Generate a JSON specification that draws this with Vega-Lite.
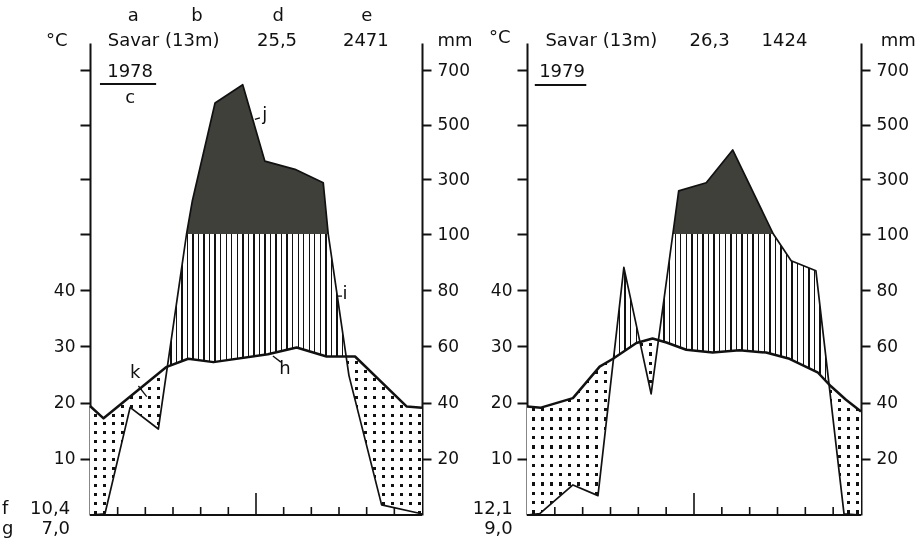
{
"$schema":"https://vega.github.io/schema/vega-lite/v6.json",
"background":"white",
"padding":{"left":2,"top":6,"right":0,"bottom":0},
"config":{
 "font":"DejaVu Sans",
 "view":{"stroke":null,"fill":"white"},
 "axis":{"domainColor":"#111","domainWidth":2,"tickColor":"#111","tickWidth":2,"labelColor":"#111","labelFont":"DejaVu Sans","labelFontSize":17,"grid":false,"title":null,"zindex":1},
 "text":{"font":"DejaVu Sans","fontSize":18,"color":"#111","align":"center","baseline":"middle"}
},
"datasets":{
 "monthBounds":[{"month":1},{"month":2},{"month":3},{"month":4},{"month":5},{"month":7},{"month":8},{"month":9},{"month":10},{"month":11}],
 "temp1978":[{"month":0,"temp":19.4},{"month":0.49,"temp":17.2},{"month":2.75,"temp":26.3},{"month":3.55,"temp":27.8},{"month":4.46,"temp":27.2},{"month":6.43,"temp":28.6},{"month":7.47,"temp":29.8},{"month":8.55,"temp":28.2},{"month":9.58,"temp":28.2},{"month":11.45,"temp":19.3},{"month":12,"temp":19.1}],
 "prec1978":[{"month":0,"prec":0},{"month":0.54,"prec":0.4},{"month":1.45,"prec":38.3},{"month":2.47,"prec":30.6},{"month":3.49,"prec":100},{"month":3.7,"prec":222},{"month":4.52,"prec":580},{"month":5.52,"prec":647},{"month":6.32,"prec":367},{"month":7.41,"prec":337},{"month":8.43,"prec":288},{"month":8.61,"prec":100},{"month":9.36,"prec":49.6},{"month":10.54,"prec":3.6},{"month":11.86,"prec":0.7},{"month":12,"prec":0.3}],
 "temp1979":[{"month":0,"temp":19.3},{"month":0.5,"temp":19.1},{"month":1.65,"temp":20.8},{"month":2.61,"temp":26.4},{"month":3.09,"temp":27.8},{"month":3.93,"temp":30.6},{"month":4.51,"temp":31.4},{"month":5.01,"temp":30.7},{"month":5.72,"temp":29.4},{"month":6.67,"temp":28.9},{"month":7.63,"temp":29.3},{"month":8.59,"temp":28.9},{"month":9.43,"temp":27.8},{"month":10.44,"temp":25.4},{"month":10.92,"temp":22.9},{"month":11.46,"temp":20.5},{"month":12,"temp":18.4}],
 "prec1979":[{"month":0,"prec":0},{"month":0.46,"prec":0.5},{"month":1.65,"prec":10.7},{"month":2.55,"prec":6.9},{"month":3.48,"prec":88.1},{"month":4.46,"prec":43.1},{"month":5.24,"prec":100},{"month":5.45,"prec":258},{"month":6.44,"prec":288},{"month":7.39,"prec":408},{"month":8.85,"prec":100},{"month":9.49,"prec":90.5},{"month":10.38,"prec":86.9},{"month":11.39,"prec":0.4},{"month":12,"prec":0}]
},
"spacing":105,
"bounds":"flush",
"hconcat":[
{
 "width":332,"height":472,
 "resolve":{"scale":{"y":"independent"}},
 "layer":[
  {"data":{"name":"prec1978"},"mark":{"type":"area","color":"#000"},"encoding":{"x":{"field":"month","type":"quantitative","scale":{"domain":[0,12],"nice":false,"zero":false},"axis":null},"y":{"field":"prec","type":"quantitative","scale":{"domain":[0,100,800],"range":[472,191,0],"nice":false,"zero":false},"axis":null}}},
  {"data":{"name":"temp1978"},"mark":{"type":"area","color":"#fff","blend":"difference"},"encoding":{"x":{"field":"month","type":"quantitative","scale":{"domain":[0,12],"nice":false,"zero":false}},"y":{"field":"temp","type":"quantitative","scale":{"domain":[0,50,400],"range":[472,191,0],"nice":false,"zero":false},"axis":null}}},
  {"data":{"name":"temp1978"},"mark":{"type":"area","blend":"lighten","color":{"gradient":"linear","x1":0,"y1":0,"x2":1,"y2":0,"stops":[{"offset":0,"color":"#fff"},
{"offset":0.0135,"color":"#fff"},{"offset":0.0135,"color":"#111"},{"offset":0.0225,"color":"#111"},{"offset":0.0225,"color":"#fff"},
{"offset":0.0405,"color":"#fff"},{"offset":0.0405,"color":"#111"},{"offset":0.0495,"color":"#111"},{"offset":0.0495,"color":"#fff"},
{"offset":0.0676,"color":"#fff"},{"offset":0.0676,"color":"#111"},{"offset":0.0766,"color":"#111"},{"offset":0.0766,"color":"#fff"},
{"offset":0.0946,"color":"#fff"},{"offset":0.0946,"color":"#111"},{"offset":0.1036,"color":"#111"},{"offset":0.1036,"color":"#fff"},
{"offset":0.1216,"color":"#fff"},{"offset":0.1216,"color":"#111"},{"offset":0.1306,"color":"#111"},{"offset":0.1306,"color":"#fff"},
{"offset":0.1486,"color":"#fff"},{"offset":0.1486,"color":"#111"},{"offset":0.1576,"color":"#111"},{"offset":0.1576,"color":"#fff"},
{"offset":0.1757,"color":"#fff"},{"offset":0.1757,"color":"#111"},{"offset":0.1847,"color":"#111"},{"offset":0.1847,"color":"#fff"},
{"offset":0.2027,"color":"#fff"},{"offset":0.2027,"color":"#111"},{"offset":0.2117,"color":"#111"},{"offset":0.2117,"color":"#fff"},
{"offset":0.2297,"color":"#fff"},{"offset":0.2297,"color":"#111"},{"offset":0.2387,"color":"#111"},{"offset":0.2387,"color":"#fff"},
{"offset":0.2568,"color":"#fff"},{"offset":0.2568,"color":"#111"},{"offset":0.2658,"color":"#111"},{"offset":0.2658,"color":"#fff"},
{"offset":0.2838,"color":"#fff"},{"offset":0.2838,"color":"#111"},{"offset":0.2928,"color":"#111"},{"offset":0.2928,"color":"#fff"},
{"offset":0.3108,"color":"#fff"},{"offset":0.3108,"color":"#111"},{"offset":0.3198,"color":"#111"},{"offset":0.3198,"color":"#fff"},
{"offset":0.3378,"color":"#fff"},{"offset":0.3378,"color":"#111"},{"offset":0.3468,"color":"#111"},{"offset":0.3468,"color":"#fff"},
{"offset":0.3649,"color":"#fff"},{"offset":0.3649,"color":"#111"},{"offset":0.3739,"color":"#111"},{"offset":0.3739,"color":"#fff"},
{"offset":0.3919,"color":"#fff"},{"offset":0.3919,"color":"#111"},{"offset":0.4009,"color":"#111"},{"offset":0.4009,"color":"#fff"},
{"offset":0.4189,"color":"#fff"},{"offset":0.4189,"color":"#111"},{"offset":0.4279,"color":"#111"},{"offset":0.4279,"color":"#fff"},
{"offset":0.4459,"color":"#fff"},{"offset":0.4459,"color":"#111"},{"offset":0.4549,"color":"#111"},{"offset":0.4549,"color":"#fff"},
{"offset":0.473,"color":"#fff"},{"offset":0.473,"color":"#111"},{"offset":0.482,"color":"#111"},{"offset":0.482,"color":"#fff"},
{"offset":0.5,"color":"#fff"},{"offset":0.5,"color":"#111"},{"offset":0.509,"color":"#111"},{"offset":0.509,"color":"#fff"},
{"offset":0.527,"color":"#fff"},{"offset":0.527,"color":"#111"},{"offset":0.536,"color":"#111"},{"offset":0.536,"color":"#fff"},
{"offset":0.5541,"color":"#fff"},{"offset":0.5541,"color":"#111"},{"offset":0.5631,"color":"#111"},{"offset":0.5631,"color":"#fff"},
{"offset":0.5811,"color":"#fff"},{"offset":0.5811,"color":"#111"},{"offset":0.5901,"color":"#111"},{"offset":0.5901,"color":"#fff"},
{"offset":0.6081,"color":"#fff"},{"offset":0.6081,"color":"#111"},{"offset":0.6171,"color":"#111"},{"offset":0.6171,"color":"#fff"},
{"offset":0.6351,"color":"#fff"},{"offset":0.6351,"color":"#111"},{"offset":0.6441,"color":"#111"},{"offset":0.6441,"color":"#fff"},
{"offset":0.6622,"color":"#fff"},{"offset":0.6622,"color":"#111"},{"offset":0.6712,"color":"#111"},{"offset":0.6712,"color":"#fff"},
{"offset":0.6892,"color":"#fff"},{"offset":0.6892,"color":"#111"},{"offset":0.6982,"color":"#111"},{"offset":0.6982,"color":"#fff"},
{"offset":0.7162,"color":"#fff"},{"offset":0.7162,"color":"#111"},{"offset":0.7252,"color":"#111"},{"offset":0.7252,"color":"#fff"},
{"offset":0.7432,"color":"#fff"},{"offset":0.7432,"color":"#111"},{"offset":0.7522,"color":"#111"},{"offset":0.7522,"color":"#fff"},
{"offset":0.7703,"color":"#fff"},{"offset":0.7703,"color":"#111"},{"offset":0.7793,"color":"#111"},{"offset":0.7793,"color":"#fff"},
{"offset":0.7973,"color":"#fff"},{"offset":0.7973,"color":"#111"},{"offset":0.8063,"color":"#111"},{"offset":0.8063,"color":"#fff"},
{"offset":0.8243,"color":"#fff"},{"offset":0.8243,"color":"#111"},{"offset":0.8333,"color":"#111"},{"offset":0.8333,"color":"#fff"},
{"offset":0.8514,"color":"#fff"},{"offset":0.8514,"color":"#111"},{"offset":0.8604,"color":"#111"},{"offset":0.8604,"color":"#fff"},
{"offset":0.8784,"color":"#fff"},{"offset":0.8784,"color":"#111"},{"offset":0.8874,"color":"#111"},{"offset":0.8874,"color":"#fff"},
{"offset":0.9054,"color":"#fff"},{"offset":0.9054,"color":"#111"},{"offset":0.9144,"color":"#111"},{"offset":0.9144,"color":"#fff"},
{"offset":0.9324,"color":"#fff"},{"offset":0.9324,"color":"#111"},{"offset":0.9414,"color":"#111"},{"offset":0.9414,"color":"#fff"},
{"offset":0.9595,"color":"#fff"},{"offset":0.9595,"color":"#111"},{"offset":0.9685,"color":"#111"},{"offset":0.9685,"color":"#fff"},
{"offset":0.9865,"color":"#fff"},{"offset":0.9865,"color":"#111"},{"offset":0.9955,"color":"#111"},{"offset":0.9955,"color":"#fff"},
{"offset":1,"color":"#fff"}]}},"encoding":{"x":{"field":"month","type":"quantitative","scale":{"domain":[0,12],"nice":false,"zero":false}},"y":{"field":"temp","type":"quantitative","scale":{"domain":[0,50,400],"range":[472,191,0],"nice":false,"zero":false},"axis":null}}},
  {"data":{"name":"temp1978"},"mark":{"type":"area","blend":"lighten","color":{"gradient":"linear","x1":0,"y1":0,"x2":0,"y2":1,"stops":[{"offset":0,"color":"#fff"},
{"offset":0.0263,"color":"#fff"},{"offset":0.0263,"color":"#111"},{"offset":0.0443,"color":"#111"},{"offset":0.0443,"color":"#fff"},
{"offset":0.0789,"color":"#fff"},{"offset":0.0789,"color":"#111"},{"offset":0.0969,"color":"#111"},{"offset":0.0969,"color":"#fff"},
{"offset":0.1316,"color":"#fff"},{"offset":0.1316,"color":"#111"},{"offset":0.1496,"color":"#111"},{"offset":0.1496,"color":"#fff"},
{"offset":0.1842,"color":"#fff"},{"offset":0.1842,"color":"#111"},{"offset":0.2022,"color":"#111"},{"offset":0.2022,"color":"#fff"},
{"offset":0.2368,"color":"#fff"},{"offset":0.2368,"color":"#111"},{"offset":0.2548,"color":"#111"},{"offset":0.2548,"color":"#fff"},
{"offset":0.2895,"color":"#fff"},{"offset":0.2895,"color":"#111"},{"offset":0.3075,"color":"#111"},{"offset":0.3075,"color":"#fff"},
{"offset":0.3421,"color":"#fff"},{"offset":0.3421,"color":"#111"},{"offset":0.3601,"color":"#111"},{"offset":0.3601,"color":"#fff"},
{"offset":0.3947,"color":"#fff"},{"offset":0.3947,"color":"#111"},{"offset":0.4127,"color":"#111"},{"offset":0.4127,"color":"#fff"},
{"offset":0.4474,"color":"#fff"},{"offset":0.4474,"color":"#111"},{"offset":0.4654,"color":"#111"},{"offset":0.4654,"color":"#fff"},
{"offset":0.5,"color":"#fff"},{"offset":0.5,"color":"#111"},{"offset":0.518,"color":"#111"},{"offset":0.518,"color":"#fff"},
{"offset":0.5526,"color":"#fff"},{"offset":0.5526,"color":"#111"},{"offset":0.5706,"color":"#111"},{"offset":0.5706,"color":"#fff"},
{"offset":0.6053,"color":"#fff"},{"offset":0.6053,"color":"#111"},{"offset":0.6233,"color":"#111"},{"offset":0.6233,"color":"#fff"},
{"offset":0.6579,"color":"#fff"},{"offset":0.6579,"color":"#111"},{"offset":0.6759,"color":"#111"},{"offset":0.6759,"color":"#fff"},
{"offset":0.7105,"color":"#fff"},{"offset":0.7105,"color":"#111"},{"offset":0.7285,"color":"#111"},{"offset":0.7285,"color":"#fff"},
{"offset":0.7632,"color":"#fff"},{"offset":0.7632,"color":"#111"},{"offset":0.7812,"color":"#111"},{"offset":0.7812,"color":"#fff"},
{"offset":0.8158,"color":"#fff"},{"offset":0.8158,"color":"#111"},{"offset":0.8338,"color":"#111"},{"offset":0.8338,"color":"#fff"},
{"offset":0.8684,"color":"#fff"},{"offset":0.8684,"color":"#111"},{"offset":0.8864,"color":"#111"},{"offset":0.8864,"color":"#fff"},
{"offset":0.9211,"color":"#fff"},{"offset":0.9211,"color":"#111"},{"offset":0.9391,"color":"#111"},{"offset":0.9391,"color":"#fff"},
{"offset":0.9737,"color":"#fff"},{"offset":0.9737,"color":"#111"},{"offset":0.9917,"color":"#111"},{"offset":0.9917,"color":"#fff"},
{"offset":1,"color":"#fff"}]}},"encoding":{"x":{"field":"month","type":"quantitative","scale":{"domain":[0,12],"nice":false,"zero":false}},"y":{"field":"temp","type":"quantitative","scale":{"domain":[0,50,400],"range":[472,191,0],"nice":false,"zero":false},"axis":null}}},
  {"data":{"name":"prec1978"},"mark":{"type":"area","blend":"lighten","color":{"gradient":"linear","x1":0,"y1":0,"x2":1,"y2":0,"stops":[{"offset":0,"color":"#fff"},
{"offset":0.0083,"color":"#fff"},{"offset":0.0083,"color":"#111"},{"offset":0.0125,"color":"#111"},{"offset":0.0125,"color":"#fff"},
{"offset":0.025,"color":"#fff"},{"offset":0.025,"color":"#111"},{"offset":0.0292,"color":"#111"},{"offset":0.0292,"color":"#fff"},
{"offset":0.0417,"color":"#fff"},{"offset":0.0417,"color":"#111"},{"offset":0.0459,"color":"#111"},{"offset":0.0459,"color":"#fff"},
{"offset":0.0583,"color":"#fff"},{"offset":0.0583,"color":"#111"},{"offset":0.0625,"color":"#111"},{"offset":0.0625,"color":"#fff"},
{"offset":0.075,"color":"#fff"},{"offset":0.075,"color":"#111"},{"offset":0.0792,"color":"#111"},{"offset":0.0792,"color":"#fff"},
{"offset":0.0917,"color":"#fff"},{"offset":0.0917,"color":"#111"},{"offset":0.0959,"color":"#111"},{"offset":0.0959,"color":"#fff"},
{"offset":0.1083,"color":"#fff"},{"offset":0.1083,"color":"#111"},{"offset":0.1125,"color":"#111"},{"offset":0.1125,"color":"#fff"},
{"offset":0.125,"color":"#fff"},{"offset":0.125,"color":"#111"},{"offset":0.1292,"color":"#111"},{"offset":0.1292,"color":"#fff"},
{"offset":0.1417,"color":"#fff"},{"offset":0.1417,"color":"#111"},{"offset":0.1459,"color":"#111"},{"offset":0.1459,"color":"#fff"},
{"offset":0.1583,"color":"#fff"},{"offset":0.1583,"color":"#111"},{"offset":0.1625,"color":"#111"},{"offset":0.1625,"color":"#fff"},
{"offset":0.175,"color":"#fff"},{"offset":0.175,"color":"#111"},{"offset":0.1792,"color":"#111"},{"offset":0.1792,"color":"#fff"},
{"offset":0.1917,"color":"#fff"},{"offset":0.1917,"color":"#111"},{"offset":0.1959,"color":"#111"},{"offset":0.1959,"color":"#fff"},
{"offset":0.2083,"color":"#fff"},{"offset":0.2083,"color":"#111"},{"offset":0.2125,"color":"#111"},{"offset":0.2125,"color":"#fff"},
{"offset":0.225,"color":"#fff"},{"offset":0.225,"color":"#111"},{"offset":0.2292,"color":"#111"},{"offset":0.2292,"color":"#fff"},
{"offset":0.2417,"color":"#fff"},{"offset":0.2417,"color":"#111"},{"offset":0.2459,"color":"#111"},{"offset":0.2459,"color":"#fff"},
{"offset":0.2583,"color":"#fff"},{"offset":0.2583,"color":"#111"},{"offset":0.2625,"color":"#111"},{"offset":0.2625,"color":"#fff"},
{"offset":0.275,"color":"#fff"},{"offset":0.275,"color":"#111"},{"offset":0.2792,"color":"#111"},{"offset":0.2792,"color":"#fff"},
{"offset":0.2917,"color":"#fff"},{"offset":0.2917,"color":"#111"},{"offset":0.2959,"color":"#111"},{"offset":0.2959,"color":"#fff"},
{"offset":0.3083,"color":"#fff"},{"offset":0.3083,"color":"#111"},{"offset":0.3125,"color":"#111"},{"offset":0.3125,"color":"#fff"},
{"offset":0.325,"color":"#fff"},{"offset":0.325,"color":"#111"},{"offset":0.3292,"color":"#111"},{"offset":0.3292,"color":"#fff"},
{"offset":0.3417,"color":"#fff"},{"offset":0.3417,"color":"#111"},{"offset":0.3459,"color":"#111"},{"offset":0.3459,"color":"#fff"},
{"offset":0.3583,"color":"#fff"},{"offset":0.3583,"color":"#111"},{"offset":0.3625,"color":"#111"},{"offset":0.3625,"color":"#fff"},
{"offset":0.375,"color":"#fff"},{"offset":0.375,"color":"#111"},{"offset":0.3792,"color":"#111"},{"offset":0.3792,"color":"#fff"},
{"offset":0.3917,"color":"#fff"},{"offset":0.3917,"color":"#111"},{"offset":0.3959,"color":"#111"},{"offset":0.3959,"color":"#fff"},
{"offset":0.4083,"color":"#fff"},{"offset":0.4083,"color":"#111"},{"offset":0.4125,"color":"#111"},{"offset":0.4125,"color":"#fff"},
{"offset":0.425,"color":"#fff"},{"offset":0.425,"color":"#111"},{"offset":0.4292,"color":"#111"},{"offset":0.4292,"color":"#fff"},
{"offset":0.4417,"color":"#fff"},{"offset":0.4417,"color":"#111"},{"offset":0.4459,"color":"#111"},{"offset":0.4459,"color":"#fff"},
{"offset":0.4583,"color":"#fff"},{"offset":0.4583,"color":"#111"},{"offset":0.4625,"color":"#111"},{"offset":0.4625,"color":"#fff"},
{"offset":0.475,"color":"#fff"},{"offset":0.475,"color":"#111"},{"offset":0.4792,"color":"#111"},{"offset":0.4792,"color":"#fff"},
{"offset":0.4917,"color":"#fff"},{"offset":0.4917,"color":"#111"},{"offset":0.4959,"color":"#111"},{"offset":0.4959,"color":"#fff"},
{"offset":0.5083,"color":"#fff"},{"offset":0.5083,"color":"#111"},{"offset":0.5125,"color":"#111"},{"offset":0.5125,"color":"#fff"},
{"offset":0.525,"color":"#fff"},{"offset":0.525,"color":"#111"},{"offset":0.5292,"color":"#111"},{"offset":0.5292,"color":"#fff"},
{"offset":0.5417,"color":"#fff"},{"offset":0.5417,"color":"#111"},{"offset":0.5459,"color":"#111"},{"offset":0.5459,"color":"#fff"},
{"offset":0.5583,"color":"#fff"},{"offset":0.5583,"color":"#111"},{"offset":0.5625,"color":"#111"},{"offset":0.5625,"color":"#fff"},
{"offset":0.575,"color":"#fff"},{"offset":0.575,"color":"#111"},{"offset":0.5792,"color":"#111"},{"offset":0.5792,"color":"#fff"},
{"offset":0.5917,"color":"#fff"},{"offset":0.5917,"color":"#111"},{"offset":0.5959,"color":"#111"},{"offset":0.5959,"color":"#fff"},
{"offset":0.6083,"color":"#fff"},{"offset":0.6083,"color":"#111"},{"offset":0.6125,"color":"#111"},{"offset":0.6125,"color":"#fff"},
{"offset":0.625,"color":"#fff"},{"offset":0.625,"color":"#111"},{"offset":0.6292,"color":"#111"},{"offset":0.6292,"color":"#fff"},
{"offset":0.6417,"color":"#fff"},{"offset":0.6417,"color":"#111"},{"offset":0.6459,"color":"#111"},{"offset":0.6459,"color":"#fff"},
{"offset":0.6583,"color":"#fff"},{"offset":0.6583,"color":"#111"},{"offset":0.6625,"color":"#111"},{"offset":0.6625,"color":"#fff"},
{"offset":0.675,"color":"#fff"},{"offset":0.675,"color":"#111"},{"offset":0.6792,"color":"#111"},{"offset":0.6792,"color":"#fff"},
{"offset":0.6917,"color":"#fff"},{"offset":0.6917,"color":"#111"},{"offset":0.6959,"color":"#111"},{"offset":0.6959,"color":"#fff"},
{"offset":0.7083,"color":"#fff"},{"offset":0.7083,"color":"#111"},{"offset":0.7125,"color":"#111"},{"offset":0.7125,"color":"#fff"},
{"offset":0.725,"color":"#fff"},{"offset":0.725,"color":"#111"},{"offset":0.7292,"color":"#111"},{"offset":0.7292,"color":"#fff"},
{"offset":0.7417,"color":"#fff"},{"offset":0.7417,"color":"#111"},{"offset":0.7459,"color":"#111"},{"offset":0.7459,"color":"#fff"},
{"offset":0.7583,"color":"#fff"},{"offset":0.7583,"color":"#111"},{"offset":0.7625,"color":"#111"},{"offset":0.7625,"color":"#fff"},
{"offset":0.775,"color":"#fff"},{"offset":0.775,"color":"#111"},{"offset":0.7792,"color":"#111"},{"offset":0.7792,"color":"#fff"},
{"offset":0.7917,"color":"#fff"},{"offset":0.7917,"color":"#111"},{"offset":0.7959,"color":"#111"},{"offset":0.7959,"color":"#fff"},
{"offset":0.8083,"color":"#fff"},{"offset":0.8083,"color":"#111"},{"offset":0.8125,"color":"#111"},{"offset":0.8125,"color":"#fff"},
{"offset":0.825,"color":"#fff"},{"offset":0.825,"color":"#111"},{"offset":0.8292,"color":"#111"},{"offset":0.8292,"color":"#fff"},
{"offset":0.8417,"color":"#fff"},{"offset":0.8417,"color":"#111"},{"offset":0.8459,"color":"#111"},{"offset":0.8459,"color":"#fff"},
{"offset":0.8583,"color":"#fff"},{"offset":0.8583,"color":"#111"},{"offset":0.8625,"color":"#111"},{"offset":0.8625,"color":"#fff"},
{"offset":0.875,"color":"#fff"},{"offset":0.875,"color":"#111"},{"offset":0.8792,"color":"#111"},{"offset":0.8792,"color":"#fff"},
{"offset":0.8917,"color":"#fff"},{"offset":0.8917,"color":"#111"},{"offset":0.8959,"color":"#111"},{"offset":0.8959,"color":"#fff"},
{"offset":0.9083,"color":"#fff"},{"offset":0.9083,"color":"#111"},{"offset":0.9125,"color":"#111"},{"offset":0.9125,"color":"#fff"},
{"offset":0.925,"color":"#fff"},{"offset":0.925,"color":"#111"},{"offset":0.9292,"color":"#111"},{"offset":0.9292,"color":"#fff"},
{"offset":0.9417,"color":"#fff"},{"offset":0.9417,"color":"#111"},{"offset":0.9459,"color":"#111"},{"offset":0.9459,"color":"#fff"},
{"offset":0.9583,"color":"#fff"},{"offset":0.9583,"color":"#111"},{"offset":0.9625,"color":"#111"},{"offset":0.9625,"color":"#fff"},
{"offset":0.975,"color":"#fff"},{"offset":0.975,"color":"#111"},{"offset":0.9792,"color":"#111"},{"offset":0.9792,"color":"#fff"},
{"offset":0.9917,"color":"#fff"},{"offset":0.9917,"color":"#111"},{"offset":0.9959,"color":"#111"},{"offset":0.9959,"color":"#fff"},
{"offset":1,"color":"#fff"}]}},"encoding":{"x":{"field":"month","type":"quantitative","scale":{"domain":[0,12],"nice":false,"zero":false}},"y":{"field":"prec","type":"quantitative","scale":{"domain":[0,100,800],"range":[472,191,0],"nice":false,"zero":false},"axis":null}}},
  {"data":{"name":"prec1978"},"transform":[{"filter":"datum.prec >= 100"}],"mark":{"type":"area","color":"#3f403a"},"encoding":{"x":{"field":"month","type":"quantitative","scale":{"domain":[0,12],"nice":false,"zero":false}},"y":{"field":"prec","type":"quantitative","scale":{"domain":[0,100,800],"range":[472,191,0],"nice":false,"zero":false},"axis":null},"y2":{"datum":100}}},
  {"data":{"name":"temp1978"},"mark":{"type":"line","color":"#111","strokeWidth":2.5,"strokeJoin":"round"},"encoding":{"x":{"field":"month","type":"quantitative","scale":{"domain":[0,12],"nice":false,"zero":false}},"y":{"field":"temp","type":"quantitative","scale":{"domain":[0,50,400],"range":[472,191,0],"nice":false,"zero":false},"axis":{"orient":"left","values":[10,20,30,40,50,150,250,350],"labelExpr":"datum.value <= 40 ? datum.label : ''","tickSize":10,"labelPadding":5}}}},
  {"data":{"name":"prec1978"},"mark":{"type":"line","color":"#111","strokeWidth":1.7,"strokeJoin":"round"},"encoding":{"x":{"field":"month","type":"quantitative","scale":{"domain":[0,12],"nice":false,"zero":false}},"y":{"field":"prec","type":"quantitative","scale":{"domain":[0,100,800],"range":[472,191,0],"nice":false,"zero":false},"axis":{"orient":"right","values":[20,40,60,80,100,300,500,700],"tickSize":9,"labelPadding":6}}}},
  {"data":{"values":[{}]},"mark":{"type":"rule","color":"#111","strokeWidth":2},"encoding":{"x":{"datum":0,"type":"quantitative","scale":{"domain":[0,12],"nice":false,"zero":false}},"x2":{"datum":12},"y":{"datum":0,"type":"quantitative","scale":{"domain":[0,100,800],"range":[472,191,0],"nice":false,"zero":false},"axis":null}}},
  {"data":{"name":"monthBounds"},"mark":{"type":"rule","color":"#111","strokeWidth":1.6},"encoding":{"x":{"field":"month","type":"quantitative","scale":{"domain":[0,12],"nice":false,"zero":false}},"y":{"datum":0,"type":"quantitative","scale":{"domain":[0,100,800],"range":[472,191,0],"nice":false,"zero":false},"axis":null},"y2":{"datum":2.85}}},
  {"data":{"values":[{}]},"mark":{"type":"rule","color":"#111","strokeWidth":1.6},"encoding":{"x":{"datum":6,"type":"quantitative","scale":{"domain":[0,12],"nice":false,"zero":false}},"y":{"datum":0,"type":"quantitative","scale":{"domain":[0,100,800],"range":[472,191,0],"nice":false,"zero":false},"axis":null},"y2":{"datum":7.8}}},
  {"data":{"values":[{}]},"mark":{"type":"text","text":"a"},"encoding":{"x":{"datum":1.56,"type":"quantitative","scale":{"domain":[0,12],"nice":false,"zero":false}},"y":{"datum":899,"type":"quantitative","scale":{"domain":[0,100,800],"range":[472,191,0],"nice":false,"zero":false},"axis":null}}},
  {"data":{"values":[{}]},"mark":{"type":"text","text":"b"},"encoding":{"x":{"datum":3.87,"type":"quantitative","scale":{"domain":[0,12],"nice":false,"zero":false}},"y":{"datum":899,"type":"quantitative","scale":{"domain":[0,100,800],"range":[472,191,0],"nice":false,"zero":false},"axis":null}}},
  {"data":{"values":[{}]},"mark":{"type":"text","text":"d"},"encoding":{"x":{"datum":6.8,"type":"quantitative","scale":{"domain":[0,12],"nice":false,"zero":false}},"y":{"datum":899,"type":"quantitative","scale":{"domain":[0,100,800],"range":[472,191,0],"nice":false,"zero":false},"axis":null}}},
  {"data":{"values":[{}]},"mark":{"type":"text","text":"e"},"encoding":{"x":{"datum":10.0,"type":"quantitative","scale":{"domain":[0,12],"nice":false,"zero":false}},"y":{"datum":899,"type":"quantitative","scale":{"domain":[0,100,800],"range":[472,191,0],"nice":false,"zero":false},"axis":null}}},
  {"data":{"values":[{}]},"mark":{"type":"text","text":"°C"},"encoding":{"x":{"datum":-1.2,"type":"quantitative","scale":{"domain":[0,12],"nice":false,"zero":false}},"y":{"datum":807,"type":"quantitative","scale":{"domain":[0,100,800],"range":[472,191,0],"nice":false,"zero":false},"axis":null}}},
  {"data":{"values":[{}]},"mark":{"type":"text","text":"Savar (13m)"},"encoding":{"x":{"datum":2.66,"type":"quantitative","scale":{"domain":[0,12],"nice":false,"zero":false}},"y":{"datum":807,"type":"quantitative","scale":{"domain":[0,100,800],"range":[472,191,0],"nice":false,"zero":false},"axis":null}}},
  {"data":{"values":[{}]},"mark":{"type":"text","text":"25,5"},"encoding":{"x":{"datum":6.76,"type":"quantitative","scale":{"domain":[0,12],"nice":false,"zero":false}},"y":{"datum":807,"type":"quantitative","scale":{"domain":[0,100,800],"range":[472,191,0],"nice":false,"zero":false},"axis":null}}},
  {"data":{"values":[{}]},"mark":{"type":"text","text":"2471"},"encoding":{"x":{"datum":9.97,"type":"quantitative","scale":{"domain":[0,12],"nice":false,"zero":false}},"y":{"datum":807,"type":"quantitative","scale":{"domain":[0,100,800],"range":[472,191,0],"nice":false,"zero":false},"axis":null}}},
  {"data":{"values":[{}]},"mark":{"type":"text","text":"mm"},"encoding":{"x":{"datum":13.19,"type":"quantitative","scale":{"domain":[0,12],"nice":false,"zero":false}},"y":{"datum":807,"type":"quantitative","scale":{"domain":[0,100,800],"range":[472,191,0],"nice":false,"zero":false},"axis":null}}},
  {"data":{"values":[{}]},"mark":{"type":"text","text":"1978"},"encoding":{"x":{"datum":1.45,"type":"quantitative","scale":{"domain":[0,12],"nice":false,"zero":false}},"y":{"datum":694,"type":"quantitative","scale":{"domain":[0,100,800],"range":[472,191,0],"nice":false,"zero":false},"axis":null}}},
  {"data":{"values":[{}]},"mark":{"type":"rule","color":"#111","strokeWidth":2},"encoding":{"x":{"datum":0.36,"type":"quantitative","scale":{"domain":[0,12],"nice":false,"zero":false}},"x2":{"datum":2.39},"y":{"datum":650,"type":"quantitative","scale":{"domain":[0,100,800],"range":[472,191,0],"nice":false,"zero":false},"axis":null}}},
  {"data":{"values":[{}]},"mark":{"type":"text","text":"c"},"encoding":{"x":{"datum":1.45,"type":"quantitative","scale":{"domain":[0,12],"nice":false,"zero":false}},"y":{"datum":598,"type":"quantitative","scale":{"domain":[0,100,800],"range":[472,191,0],"nice":false,"zero":false},"axis":null}}},
  {"data":{"values":[{}]},"mark":{"type":"text","text":"j"},"encoding":{"x":{"datum":6.32,"type":"quantitative","scale":{"domain":[0,12],"nice":false,"zero":false}},"y":{"datum":536,"type":"quantitative","scale":{"domain":[0,100,800],"range":[472,191,0],"nice":false,"zero":false},"axis":null}}},
  {"data":{"values":[{}]},"mark":{"type":"rule","color":"#111","strokeWidth":1.3},"encoding":{"x":{"datum":5.96,"type":"quantitative","scale":{"domain":[0,12],"nice":false,"zero":false}},"x2":{"datum":6.14},"y":{"datum":520,"type":"quantitative","scale":{"domain":[0,100,800],"range":[472,191,0],"nice":false,"zero":false},"axis":null},"y2":{"datum":526}}},
  {"data":{"values":[{}]},"mark":{"type":"text","text":"i"},"encoding":{"x":{"datum":9.22,"type":"quantitative","scale":{"domain":[0,12],"nice":false,"zero":false}},"y":{"datum":78.5,"type":"quantitative","scale":{"domain":[0,100,800],"range":[472,191,0],"nice":false,"zero":false},"axis":null}}},
  {"data":{"values":[{}]},"mark":{"type":"rule","color":"#111","strokeWidth":1.3},"encoding":{"x":{"datum":8.96,"type":"quantitative","scale":{"domain":[0,12],"nice":false,"zero":false}},"x2":{"datum":9.11},"y":{"datum":77.9,"type":"quantitative","scale":{"domain":[0,100,800],"range":[472,191,0],"nice":false,"zero":false},"axis":null}}},
  {"data":{"values":[{}]},"mark":{"type":"text","text":"h"},"encoding":{"x":{"datum":7.05,"type":"quantitative","scale":{"domain":[0,12],"nice":false,"zero":false}},"y":{"datum":52,"type":"quantitative","scale":{"domain":[0,100,800],"range":[472,191,0],"nice":false,"zero":false},"axis":null}}},
  {"data":{"values":[{}]},"mark":{"type":"rule","color":"#111","strokeWidth":1.3},"encoding":{"x":{"datum":6.61,"type":"quantitative","scale":{"domain":[0,12],"nice":false,"zero":false}},"x2":{"datum":6.9},"y":{"datum":56.6,"type":"quantitative","scale":{"domain":[0,100,800],"range":[472,191,0],"nice":false,"zero":false},"axis":null},"y2":{"datum":54.4}}},
  {"data":{"values":[{}]},"mark":{"type":"text","text":"k"},"encoding":{"x":{"datum":1.63,"type":"quantitative","scale":{"domain":[0,12],"nice":false,"zero":false}},"y":{"datum":50.6,"type":"quantitative","scale":{"domain":[0,100,800],"range":[472,191,0],"nice":false,"zero":false},"axis":null}}},
  {"data":{"values":[{}]},"mark":{"type":"rule","color":"#111","strokeWidth":1.3},"encoding":{"x":{"datum":1.75,"type":"quantitative","scale":{"domain":[0,12],"nice":false,"zero":false}},"x2":{"datum":2.05},"y":{"datum":45.9,"type":"quantitative","scale":{"domain":[0,100,800],"range":[472,191,0],"nice":false,"zero":false},"axis":null},"y2":{"datum":42.1}}},
  {"data":{"values":[{}]},"mark":{"type":"text","text":"f","align":"left"},"encoding":{"x":{"datum":-3.18,"type":"quantitative","scale":{"domain":[0,12],"nice":false,"zero":false}},"y":{"datum":2.2,"type":"quantitative","scale":{"domain":[0,100,800],"range":[472,191,0],"nice":false,"zero":false},"axis":null}}},
  {"data":{"values":[{}]},"mark":{"type":"text","text":"10,4","align":"right"},"encoding":{"x":{"datum":-0.72,"type":"quantitative","scale":{"domain":[0,12],"nice":false,"zero":false}},"y":{"datum":2.2,"type":"quantitative","scale":{"domain":[0,100,800],"range":[472,191,0],"nice":false,"zero":false},"axis":null}}},
  {"data":{"values":[{}]},"mark":{"type":"text","text":"g","align":"left"},"encoding":{"x":{"datum":-3.18,"type":"quantitative","scale":{"domain":[0,12],"nice":false,"zero":false}},"y":{"datum":-5,"type":"quantitative","scale":{"domain":[0,100,800],"range":[472,191,0],"nice":false,"zero":false},"axis":null}}},
  {"data":{"values":[{}]},"mark":{"type":"text","text":"7,0","align":"right"},"encoding":{"x":{"datum":-0.72,"type":"quantitative","scale":{"domain":[0,12],"nice":false,"zero":false}},"y":{"datum":-5,"type":"quantitative","scale":{"domain":[0,100,800],"range":[472,191,0],"nice":false,"zero":false},"axis":null}}}
 ]
},
{
 "width":334,"height":472,
 "resolve":{"scale":{"y":"independent"}},
 "layer":[
  {"data":{"name":"prec1979"},"mark":{"type":"area","color":"#000"},"encoding":{"x":{"field":"month","type":"quantitative","scale":{"domain":[0,12],"nice":false,"zero":false},"axis":null},"y":{"field":"prec","type":"quantitative","scale":{"domain":[0,100,800],"range":[472,191,0],"nice":false,"zero":false},"axis":null}}},
  {"data":{"name":"temp1979"},"mark":{"type":"area","color":"#fff","blend":"difference"},"encoding":{"x":{"field":"month","type":"quantitative","scale":{"domain":[0,12],"nice":false,"zero":false}},"y":{"field":"temp","type":"quantitative","scale":{"domain":[0,50,400],"range":[472,191,0],"nice":false,"zero":false},"axis":null}}},
  {"data":{"name":"temp1979"},"mark":{"type":"area","blend":"lighten","color":{"gradient":"linear","x1":0,"y1":0,"x2":1,"y2":0,"stops":[{"offset":0,"color":"#fff"},
{"offset":0.0135,"color":"#fff"},{"offset":0.0135,"color":"#111"},{"offset":0.0225,"color":"#111"},{"offset":0.0225,"color":"#fff"},
{"offset":0.0405,"color":"#fff"},{"offset":0.0405,"color":"#111"},{"offset":0.0495,"color":"#111"},{"offset":0.0495,"color":"#fff"},
{"offset":0.0676,"color":"#fff"},{"offset":0.0676,"color":"#111"},{"offset":0.0766,"color":"#111"},{"offset":0.0766,"color":"#fff"},
{"offset":0.0946,"color":"#fff"},{"offset":0.0946,"color":"#111"},{"offset":0.1036,"color":"#111"},{"offset":0.1036,"color":"#fff"},
{"offset":0.1216,"color":"#fff"},{"offset":0.1216,"color":"#111"},{"offset":0.1306,"color":"#111"},{"offset":0.1306,"color":"#fff"},
{"offset":0.1486,"color":"#fff"},{"offset":0.1486,"color":"#111"},{"offset":0.1576,"color":"#111"},{"offset":0.1576,"color":"#fff"},
{"offset":0.1757,"color":"#fff"},{"offset":0.1757,"color":"#111"},{"offset":0.1847,"color":"#111"},{"offset":0.1847,"color":"#fff"},
{"offset":0.2027,"color":"#fff"},{"offset":0.2027,"color":"#111"},{"offset":0.2117,"color":"#111"},{"offset":0.2117,"color":"#fff"},
{"offset":0.2297,"color":"#fff"},{"offset":0.2297,"color":"#111"},{"offset":0.2387,"color":"#111"},{"offset":0.2387,"color":"#fff"},
{"offset":0.2568,"color":"#fff"},{"offset":0.2568,"color":"#111"},{"offset":0.2658,"color":"#111"},{"offset":0.2658,"color":"#fff"},
{"offset":0.2838,"color":"#fff"},{"offset":0.2838,"color":"#111"},{"offset":0.2928,"color":"#111"},{"offset":0.2928,"color":"#fff"},
{"offset":0.3108,"color":"#fff"},{"offset":0.3108,"color":"#111"},{"offset":0.3198,"color":"#111"},{"offset":0.3198,"color":"#fff"},
{"offset":0.3378,"color":"#fff"},{"offset":0.3378,"color":"#111"},{"offset":0.3468,"color":"#111"},{"offset":0.3468,"color":"#fff"},
{"offset":0.3649,"color":"#fff"},{"offset":0.3649,"color":"#111"},{"offset":0.3739,"color":"#111"},{"offset":0.3739,"color":"#fff"},
{"offset":0.3919,"color":"#fff"},{"offset":0.3919,"color":"#111"},{"offset":0.4009,"color":"#111"},{"offset":0.4009,"color":"#fff"},
{"offset":0.4189,"color":"#fff"},{"offset":0.4189,"color":"#111"},{"offset":0.4279,"color":"#111"},{"offset":0.4279,"color":"#fff"},
{"offset":0.4459,"color":"#fff"},{"offset":0.4459,"color":"#111"},{"offset":0.4549,"color":"#111"},{"offset":0.4549,"color":"#fff"},
{"offset":0.473,"color":"#fff"},{"offset":0.473,"color":"#111"},{"offset":0.482,"color":"#111"},{"offset":0.482,"color":"#fff"},
{"offset":0.5,"color":"#fff"},{"offset":0.5,"color":"#111"},{"offset":0.509,"color":"#111"},{"offset":0.509,"color":"#fff"},
{"offset":0.527,"color":"#fff"},{"offset":0.527,"color":"#111"},{"offset":0.536,"color":"#111"},{"offset":0.536,"color":"#fff"},
{"offset":0.5541,"color":"#fff"},{"offset":0.5541,"color":"#111"},{"offset":0.5631,"color":"#111"},{"offset":0.5631,"color":"#fff"},
{"offset":0.5811,"color":"#fff"},{"offset":0.5811,"color":"#111"},{"offset":0.5901,"color":"#111"},{"offset":0.5901,"color":"#fff"},
{"offset":0.6081,"color":"#fff"},{"offset":0.6081,"color":"#111"},{"offset":0.6171,"color":"#111"},{"offset":0.6171,"color":"#fff"},
{"offset":0.6351,"color":"#fff"},{"offset":0.6351,"color":"#111"},{"offset":0.6441,"color":"#111"},{"offset":0.6441,"color":"#fff"},
{"offset":0.6622,"color":"#fff"},{"offset":0.6622,"color":"#111"},{"offset":0.6712,"color":"#111"},{"offset":0.6712,"color":"#fff"},
{"offset":0.6892,"color":"#fff"},{"offset":0.6892,"color":"#111"},{"offset":0.6982,"color":"#111"},{"offset":0.6982,"color":"#fff"},
{"offset":0.7162,"color":"#fff"},{"offset":0.7162,"color":"#111"},{"offset":0.7252,"color":"#111"},{"offset":0.7252,"color":"#fff"},
{"offset":0.7432,"color":"#fff"},{"offset":0.7432,"color":"#111"},{"offset":0.7522,"color":"#111"},{"offset":0.7522,"color":"#fff"},
{"offset":0.7703,"color":"#fff"},{"offset":0.7703,"color":"#111"},{"offset":0.7793,"color":"#111"},{"offset":0.7793,"color":"#fff"},
{"offset":0.7973,"color":"#fff"},{"offset":0.7973,"color":"#111"},{"offset":0.8063,"color":"#111"},{"offset":0.8063,"color":"#fff"},
{"offset":0.8243,"color":"#fff"},{"offset":0.8243,"color":"#111"},{"offset":0.8333,"color":"#111"},{"offset":0.8333,"color":"#fff"},
{"offset":0.8514,"color":"#fff"},{"offset":0.8514,"color":"#111"},{"offset":0.8604,"color":"#111"},{"offset":0.8604,"color":"#fff"},
{"offset":0.8784,"color":"#fff"},{"offset":0.8784,"color":"#111"},{"offset":0.8874,"color":"#111"},{"offset":0.8874,"color":"#fff"},
{"offset":0.9054,"color":"#fff"},{"offset":0.9054,"color":"#111"},{"offset":0.9144,"color":"#111"},{"offset":0.9144,"color":"#fff"},
{"offset":0.9324,"color":"#fff"},{"offset":0.9324,"color":"#111"},{"offset":0.9414,"color":"#111"},{"offset":0.9414,"color":"#fff"},
{"offset":0.9595,"color":"#fff"},{"offset":0.9595,"color":"#111"},{"offset":0.9685,"color":"#111"},{"offset":0.9685,"color":"#fff"},
{"offset":0.9865,"color":"#fff"},{"offset":0.9865,"color":"#111"},{"offset":0.9955,"color":"#111"},{"offset":0.9955,"color":"#fff"},
{"offset":1,"color":"#fff"}]}},"encoding":{"x":{"field":"month","type":"quantitative","scale":{"domain":[0,12],"nice":false,"zero":false}},"y":{"field":"temp","type":"quantitative","scale":{"domain":[0,50,400],"range":[472,191,0],"nice":false,"zero":false},"axis":null}}},
  {"data":{"name":"temp1979"},"mark":{"type":"area","blend":"lighten","color":{"gradient":"linear","x1":0,"y1":0,"x2":0,"y2":1,"stops":[{"offset":0,"color":"#fff"},
{"offset":0.0263,"color":"#fff"},{"offset":0.0263,"color":"#111"},{"offset":0.0443,"color":"#111"},{"offset":0.0443,"color":"#fff"},
{"offset":0.0789,"color":"#fff"},{"offset":0.0789,"color":"#111"},{"offset":0.0969,"color":"#111"},{"offset":0.0969,"color":"#fff"},
{"offset":0.1316,"color":"#fff"},{"offset":0.1316,"color":"#111"},{"offset":0.1496,"color":"#111"},{"offset":0.1496,"color":"#fff"},
{"offset":0.1842,"color":"#fff"},{"offset":0.1842,"color":"#111"},{"offset":0.2022,"color":"#111"},{"offset":0.2022,"color":"#fff"},
{"offset":0.2368,"color":"#fff"},{"offset":0.2368,"color":"#111"},{"offset":0.2548,"color":"#111"},{"offset":0.2548,"color":"#fff"},
{"offset":0.2895,"color":"#fff"},{"offset":0.2895,"color":"#111"},{"offset":0.3075,"color":"#111"},{"offset":0.3075,"color":"#fff"},
{"offset":0.3421,"color":"#fff"},{"offset":0.3421,"color":"#111"},{"offset":0.3601,"color":"#111"},{"offset":0.3601,"color":"#fff"},
{"offset":0.3947,"color":"#fff"},{"offset":0.3947,"color":"#111"},{"offset":0.4127,"color":"#111"},{"offset":0.4127,"color":"#fff"},
{"offset":0.4474,"color":"#fff"},{"offset":0.4474,"color":"#111"},{"offset":0.4654,"color":"#111"},{"offset":0.4654,"color":"#fff"},
{"offset":0.5,"color":"#fff"},{"offset":0.5,"color":"#111"},{"offset":0.518,"color":"#111"},{"offset":0.518,"color":"#fff"},
{"offset":0.5526,"color":"#fff"},{"offset":0.5526,"color":"#111"},{"offset":0.5706,"color":"#111"},{"offset":0.5706,"color":"#fff"},
{"offset":0.6053,"color":"#fff"},{"offset":0.6053,"color":"#111"},{"offset":0.6233,"color":"#111"},{"offset":0.6233,"color":"#fff"},
{"offset":0.6579,"color":"#fff"},{"offset":0.6579,"color":"#111"},{"offset":0.6759,"color":"#111"},{"offset":0.6759,"color":"#fff"},
{"offset":0.7105,"color":"#fff"},{"offset":0.7105,"color":"#111"},{"offset":0.7285,"color":"#111"},{"offset":0.7285,"color":"#fff"},
{"offset":0.7632,"color":"#fff"},{"offset":0.7632,"color":"#111"},{"offset":0.7812,"color":"#111"},{"offset":0.7812,"color":"#fff"},
{"offset":0.8158,"color":"#fff"},{"offset":0.8158,"color":"#111"},{"offset":0.8338,"color":"#111"},{"offset":0.8338,"color":"#fff"},
{"offset":0.8684,"color":"#fff"},{"offset":0.8684,"color":"#111"},{"offset":0.8864,"color":"#111"},{"offset":0.8864,"color":"#fff"},
{"offset":0.9211,"color":"#fff"},{"offset":0.9211,"color":"#111"},{"offset":0.9391,"color":"#111"},{"offset":0.9391,"color":"#fff"},
{"offset":0.9737,"color":"#fff"},{"offset":0.9737,"color":"#111"},{"offset":0.9917,"color":"#111"},{"offset":0.9917,"color":"#fff"},
{"offset":1,"color":"#fff"}]}},"encoding":{"x":{"field":"month","type":"quantitative","scale":{"domain":[0,12],"nice":false,"zero":false}},"y":{"field":"temp","type":"quantitative","scale":{"domain":[0,50,400],"range":[472,191,0],"nice":false,"zero":false},"axis":null}}},
  {"data":{"name":"prec1979"},"mark":{"type":"area","blend":"lighten","color":{"gradient":"linear","x1":0,"y1":0,"x2":1,"y2":0,"stops":[{"offset":0,"color":"#fff"},
{"offset":0.0083,"color":"#fff"},{"offset":0.0083,"color":"#111"},{"offset":0.0125,"color":"#111"},{"offset":0.0125,"color":"#fff"},
{"offset":0.025,"color":"#fff"},{"offset":0.025,"color":"#111"},{"offset":0.0292,"color":"#111"},{"offset":0.0292,"color":"#fff"},
{"offset":0.0417,"color":"#fff"},{"offset":0.0417,"color":"#111"},{"offset":0.0459,"color":"#111"},{"offset":0.0459,"color":"#fff"},
{"offset":0.0583,"color":"#fff"},{"offset":0.0583,"color":"#111"},{"offset":0.0625,"color":"#111"},{"offset":0.0625,"color":"#fff"},
{"offset":0.075,"color":"#fff"},{"offset":0.075,"color":"#111"},{"offset":0.0792,"color":"#111"},{"offset":0.0792,"color":"#fff"},
{"offset":0.0917,"color":"#fff"},{"offset":0.0917,"color":"#111"},{"offset":0.0959,"color":"#111"},{"offset":0.0959,"color":"#fff"},
{"offset":0.1083,"color":"#fff"},{"offset":0.1083,"color":"#111"},{"offset":0.1125,"color":"#111"},{"offset":0.1125,"color":"#fff"},
{"offset":0.125,"color":"#fff"},{"offset":0.125,"color":"#111"},{"offset":0.1292,"color":"#111"},{"offset":0.1292,"color":"#fff"},
{"offset":0.1417,"color":"#fff"},{"offset":0.1417,"color":"#111"},{"offset":0.1459,"color":"#111"},{"offset":0.1459,"color":"#fff"},
{"offset":0.1583,"color":"#fff"},{"offset":0.1583,"color":"#111"},{"offset":0.1625,"color":"#111"},{"offset":0.1625,"color":"#fff"},
{"offset":0.175,"color":"#fff"},{"offset":0.175,"color":"#111"},{"offset":0.1792,"color":"#111"},{"offset":0.1792,"color":"#fff"},
{"offset":0.1917,"color":"#fff"},{"offset":0.1917,"color":"#111"},{"offset":0.1959,"color":"#111"},{"offset":0.1959,"color":"#fff"},
{"offset":0.2083,"color":"#fff"},{"offset":0.2083,"color":"#111"},{"offset":0.2125,"color":"#111"},{"offset":0.2125,"color":"#fff"},
{"offset":0.225,"color":"#fff"},{"offset":0.225,"color":"#111"},{"offset":0.2292,"color":"#111"},{"offset":0.2292,"color":"#fff"},
{"offset":0.2417,"color":"#fff"},{"offset":0.2417,"color":"#111"},{"offset":0.2459,"color":"#111"},{"offset":0.2459,"color":"#fff"},
{"offset":0.2583,"color":"#fff"},{"offset":0.2583,"color":"#111"},{"offset":0.2625,"color":"#111"},{"offset":0.2625,"color":"#fff"},
{"offset":0.275,"color":"#fff"},{"offset":0.275,"color":"#111"},{"offset":0.2792,"color":"#111"},{"offset":0.2792,"color":"#fff"},
{"offset":0.2917,"color":"#fff"},{"offset":0.2917,"color":"#111"},{"offset":0.2959,"color":"#111"},{"offset":0.2959,"color":"#fff"},
{"offset":0.3083,"color":"#fff"},{"offset":0.3083,"color":"#111"},{"offset":0.3125,"color":"#111"},{"offset":0.3125,"color":"#fff"},
{"offset":0.325,"color":"#fff"},{"offset":0.325,"color":"#111"},{"offset":0.3292,"color":"#111"},{"offset":0.3292,"color":"#fff"},
{"offset":0.3417,"color":"#fff"},{"offset":0.3417,"color":"#111"},{"offset":0.3459,"color":"#111"},{"offset":0.3459,"color":"#fff"},
{"offset":0.3583,"color":"#fff"},{"offset":0.3583,"color":"#111"},{"offset":0.3625,"color":"#111"},{"offset":0.3625,"color":"#fff"},
{"offset":0.375,"color":"#fff"},{"offset":0.375,"color":"#111"},{"offset":0.3792,"color":"#111"},{"offset":0.3792,"color":"#fff"},
{"offset":0.3917,"color":"#fff"},{"offset":0.3917,"color":"#111"},{"offset":0.3959,"color":"#111"},{"offset":0.3959,"color":"#fff"},
{"offset":0.4083,"color":"#fff"},{"offset":0.4083,"color":"#111"},{"offset":0.4125,"color":"#111"},{"offset":0.4125,"color":"#fff"},
{"offset":0.425,"color":"#fff"},{"offset":0.425,"color":"#111"},{"offset":0.4292,"color":"#111"},{"offset":0.4292,"color":"#fff"},
{"offset":0.4417,"color":"#fff"},{"offset":0.4417,"color":"#111"},{"offset":0.4459,"color":"#111"},{"offset":0.4459,"color":"#fff"},
{"offset":0.4583,"color":"#fff"},{"offset":0.4583,"color":"#111"},{"offset":0.4625,"color":"#111"},{"offset":0.4625,"color":"#fff"},
{"offset":0.475,"color":"#fff"},{"offset":0.475,"color":"#111"},{"offset":0.4792,"color":"#111"},{"offset":0.4792,"color":"#fff"},
{"offset":0.4917,"color":"#fff"},{"offset":0.4917,"color":"#111"},{"offset":0.4959,"color":"#111"},{"offset":0.4959,"color":"#fff"},
{"offset":0.5083,"color":"#fff"},{"offset":0.5083,"color":"#111"},{"offset":0.5125,"color":"#111"},{"offset":0.5125,"color":"#fff"},
{"offset":0.525,"color":"#fff"},{"offset":0.525,"color":"#111"},{"offset":0.5292,"color":"#111"},{"offset":0.5292,"color":"#fff"},
{"offset":0.5417,"color":"#fff"},{"offset":0.5417,"color":"#111"},{"offset":0.5459,"color":"#111"},{"offset":0.5459,"color":"#fff"},
{"offset":0.5583,"color":"#fff"},{"offset":0.5583,"color":"#111"},{"offset":0.5625,"color":"#111"},{"offset":0.5625,"color":"#fff"},
{"offset":0.575,"color":"#fff"},{"offset":0.575,"color":"#111"},{"offset":0.5792,"color":"#111"},{"offset":0.5792,"color":"#fff"},
{"offset":0.5917,"color":"#fff"},{"offset":0.5917,"color":"#111"},{"offset":0.5959,"color":"#111"},{"offset":0.5959,"color":"#fff"},
{"offset":0.6083,"color":"#fff"},{"offset":0.6083,"color":"#111"},{"offset":0.6125,"color":"#111"},{"offset":0.6125,"color":"#fff"},
{"offset":0.625,"color":"#fff"},{"offset":0.625,"color":"#111"},{"offset":0.6292,"color":"#111"},{"offset":0.6292,"color":"#fff"},
{"offset":0.6417,"color":"#fff"},{"offset":0.6417,"color":"#111"},{"offset":0.6459,"color":"#111"},{"offset":0.6459,"color":"#fff"},
{"offset":0.6583,"color":"#fff"},{"offset":0.6583,"color":"#111"},{"offset":0.6625,"color":"#111"},{"offset":0.6625,"color":"#fff"},
{"offset":0.675,"color":"#fff"},{"offset":0.675,"color":"#111"},{"offset":0.6792,"color":"#111"},{"offset":0.6792,"color":"#fff"},
{"offset":0.6917,"color":"#fff"},{"offset":0.6917,"color":"#111"},{"offset":0.6959,"color":"#111"},{"offset":0.6959,"color":"#fff"},
{"offset":0.7083,"color":"#fff"},{"offset":0.7083,"color":"#111"},{"offset":0.7125,"color":"#111"},{"offset":0.7125,"color":"#fff"},
{"offset":0.725,"color":"#fff"},{"offset":0.725,"color":"#111"},{"offset":0.7292,"color":"#111"},{"offset":0.7292,"color":"#fff"},
{"offset":0.7417,"color":"#fff"},{"offset":0.7417,"color":"#111"},{"offset":0.7459,"color":"#111"},{"offset":0.7459,"color":"#fff"},
{"offset":0.7583,"color":"#fff"},{"offset":0.7583,"color":"#111"},{"offset":0.7625,"color":"#111"},{"offset":0.7625,"color":"#fff"},
{"offset":0.775,"color":"#fff"},{"offset":0.775,"color":"#111"},{"offset":0.7792,"color":"#111"},{"offset":0.7792,"color":"#fff"},
{"offset":0.7917,"color":"#fff"},{"offset":0.7917,"color":"#111"},{"offset":0.7959,"color":"#111"},{"offset":0.7959,"color":"#fff"},
{"offset":0.8083,"color":"#fff"},{"offset":0.8083,"color":"#111"},{"offset":0.8125,"color":"#111"},{"offset":0.8125,"color":"#fff"},
{"offset":0.825,"color":"#fff"},{"offset":0.825,"color":"#111"},{"offset":0.8292,"color":"#111"},{"offset":0.8292,"color":"#fff"},
{"offset":0.8417,"color":"#fff"},{"offset":0.8417,"color":"#111"},{"offset":0.8459,"color":"#111"},{"offset":0.8459,"color":"#fff"},
{"offset":0.8583,"color":"#fff"},{"offset":0.8583,"color":"#111"},{"offset":0.8625,"color":"#111"},{"offset":0.8625,"color":"#fff"},
{"offset":0.875,"color":"#fff"},{"offset":0.875,"color":"#111"},{"offset":0.8792,"color":"#111"},{"offset":0.8792,"color":"#fff"},
{"offset":0.8917,"color":"#fff"},{"offset":0.8917,"color":"#111"},{"offset":0.8959,"color":"#111"},{"offset":0.8959,"color":"#fff"},
{"offset":0.9083,"color":"#fff"},{"offset":0.9083,"color":"#111"},{"offset":0.9125,"color":"#111"},{"offset":0.9125,"color":"#fff"},
{"offset":0.925,"color":"#fff"},{"offset":0.925,"color":"#111"},{"offset":0.9292,"color":"#111"},{"offset":0.9292,"color":"#fff"},
{"offset":0.9417,"color":"#fff"},{"offset":0.9417,"color":"#111"},{"offset":0.9459,"color":"#111"},{"offset":0.9459,"color":"#fff"},
{"offset":0.9583,"color":"#fff"},{"offset":0.9583,"color":"#111"},{"offset":0.9625,"color":"#111"},{"offset":0.9625,"color":"#fff"},
{"offset":0.975,"color":"#fff"},{"offset":0.975,"color":"#111"},{"offset":0.9792,"color":"#111"},{"offset":0.9792,"color":"#fff"},
{"offset":0.9917,"color":"#fff"},{"offset":0.9917,"color":"#111"},{"offset":0.9959,"color":"#111"},{"offset":0.9959,"color":"#fff"},
{"offset":1,"color":"#fff"}]}},"encoding":{"x":{"field":"month","type":"quantitative","scale":{"domain":[0,12],"nice":false,"zero":false}},"y":{"field":"prec","type":"quantitative","scale":{"domain":[0,100,800],"range":[472,191,0],"nice":false,"zero":false},"axis":null}}},
  {"data":{"name":"prec1979"},"transform":[{"filter":"datum.prec >= 100"}],"mark":{"type":"area","color":"#3f403a"},"encoding":{"x":{"field":"month","type":"quantitative","scale":{"domain":[0,12],"nice":false,"zero":false}},"y":{"field":"prec","type":"quantitative","scale":{"domain":[0,100,800],"range":[472,191,0],"nice":false,"zero":false},"axis":null},"y2":{"datum":100}}},
  {"data":{"name":"temp1979"},"mark":{"type":"line","color":"#111","strokeWidth":2.5,"strokeJoin":"round"},"encoding":{"x":{"field":"month","type":"quantitative","scale":{"domain":[0,12],"nice":false,"zero":false}},"y":{"field":"temp","type":"quantitative","scale":{"domain":[0,50,400],"range":[472,191,0],"nice":false,"zero":false},"axis":{"orient":"left","values":[10,20,30,40,50,150,250,350],"labelExpr":"datum.value <= 40 ? datum.label : ''","tickSize":10,"labelPadding":5}}}},
  {"data":{"name":"prec1979"},"mark":{"type":"line","color":"#111","strokeWidth":1.7,"strokeJoin":"round"},"encoding":{"x":{"field":"month","type":"quantitative","scale":{"domain":[0,12],"nice":false,"zero":false}},"y":{"field":"prec","type":"quantitative","scale":{"domain":[0,100,800],"range":[472,191,0],"nice":false,"zero":false},"axis":{"orient":"right","values":[20,40,60,80,100,300,500,700],"tickSize":9,"labelPadding":6}}}},
  {"data":{"values":[{}]},"mark":{"type":"rule","color":"#111","strokeWidth":2},"encoding":{"x":{"datum":0,"type":"quantitative","scale":{"domain":[0,12],"nice":false,"zero":false}},"x2":{"datum":12},"y":{"datum":0,"type":"quantitative","scale":{"domain":[0,100,800],"range":[472,191,0],"nice":false,"zero":false},"axis":null}}},
  {"data":{"name":"monthBounds"},"mark":{"type":"rule","color":"#111","strokeWidth":1.6},"encoding":{"x":{"field":"month","type":"quantitative","scale":{"domain":[0,12],"nice":false,"zero":false}},"y":{"datum":0,"type":"quantitative","scale":{"domain":[0,100,800],"range":[472,191,0],"nice":false,"zero":false},"axis":null},"y2":{"datum":2.85}}},
  {"data":{"values":[{}]},"mark":{"type":"rule","color":"#111","strokeWidth":1.6},"encoding":{"x":{"datum":6,"type":"quantitative","scale":{"domain":[0,12],"nice":false,"zero":false}},"y":{"datum":0,"type":"quantitative","scale":{"domain":[0,100,800],"range":[472,191,0],"nice":false,"zero":false},"axis":null},"y2":{"datum":7.8}}},
  {"data":{"values":[{}]},"mark":{"type":"text","text":"°C"},"encoding":{"x":{"datum":-0.98,"type":"quantitative","scale":{"domain":[0,12],"nice":false,"zero":false}},"y":{"datum":818,"type":"quantitative","scale":{"domain":[0,100,800],"range":[472,191,0],"nice":false,"zero":false},"axis":null}}},
  {"data":{"values":[{}]},"mark":{"type":"text","text":"Savar (13m)"},"encoding":{"x":{"datum":2.67,"type":"quantitative","scale":{"domain":[0,12],"nice":false,"zero":false}},"y":{"datum":807,"type":"quantitative","scale":{"domain":[0,100,800],"range":[472,191,0],"nice":false,"zero":false},"axis":null}}},
  {"data":{"values":[{}]},"mark":{"type":"text","text":"26,3"},"encoding":{"x":{"datum":6.56,"type":"quantitative","scale":{"domain":[0,12],"nice":false,"zero":false}},"y":{"datum":807,"type":"quantitative","scale":{"domain":[0,100,800],"range":[472,191,0],"nice":false,"zero":false},"axis":null}}},
  {"data":{"values":[{}]},"mark":{"type":"text","text":"1424"},"encoding":{"x":{"datum":9.25,"type":"quantitative","scale":{"domain":[0,12],"nice":false,"zero":false}},"y":{"datum":807,"type":"quantitative","scale":{"domain":[0,100,800],"range":[472,191,0],"nice":false,"zero":false},"axis":null}}},
  {"data":{"values":[{}]},"mark":{"type":"text","text":"mm"},"encoding":{"x":{"datum":13.34,"type":"quantitative","scale":{"domain":[0,12],"nice":false,"zero":false}},"y":{"datum":807,"type":"quantitative","scale":{"domain":[0,100,800],"range":[472,191,0],"nice":false,"zero":false},"axis":null}}},
  {"data":{"values":[{}]},"mark":{"type":"text","text":"1979"},"encoding":{"x":{"datum":1.26,"type":"quantitative","scale":{"domain":[0,12],"nice":false,"zero":false}},"y":{"datum":694,"type":"quantitative","scale":{"domain":[0,100,800],"range":[472,191,0],"nice":false,"zero":false},"axis":null}}},
  {"data":{"values":[{}]},"mark":{"type":"rule","color":"#111","strokeWidth":2},"encoding":{"x":{"datum":0.28,"type":"quantitative","scale":{"domain":[0,12],"nice":false,"zero":false}},"x2":{"datum":2.13},"y":{"datum":646,"type":"quantitative","scale":{"domain":[0,100,800],"range":[472,191,0],"nice":false,"zero":false},"axis":null}}},
  {"data":{"values":[{}]},"mark":{"type":"text","text":"12,1","align":"right"},"encoding":{"x":{"datum":-0.51,"type":"quantitative","scale":{"domain":[0,12],"nice":false,"zero":false}},"y":{"datum":2.2,"type":"quantitative","scale":{"domain":[0,100,800],"range":[472,191,0],"nice":false,"zero":false},"axis":null}}},
  {"data":{"values":[{}]},"mark":{"type":"text","text":"9,0","align":"right"},"encoding":{"x":{"datum":-0.51,"type":"quantitative","scale":{"domain":[0,12],"nice":false,"zero":false}},"y":{"datum":-5,"type":"quantitative","scale":{"domain":[0,100,800],"range":[472,191,0],"nice":false,"zero":false},"axis":null}}}
 ]
}
]
}
